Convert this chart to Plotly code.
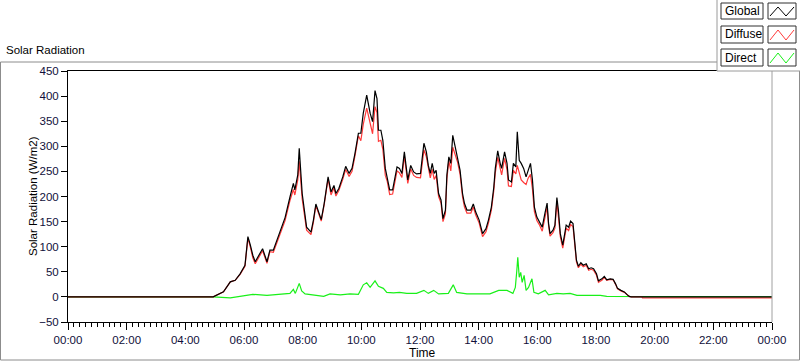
import plotly.graph_objects as go

# ---------------- data ----------------
times = ["00:00", "04:57", "05:18", "05:32", "05:42", "05:52", "06:02", "06:06", "06:08", "06:13",
         "06:18", "06:23", "06:32", "06:38", "06:47", "06:53", "07:00", "07:10", "07:17", "07:24",
         "07:34", "07:41", "07:44", "07:50", "07:53", "07:56", "07:59", "08:04", "08:08", "08:17",
         "08:22", "08:27", "08:32", "08:38", "08:44", "08:52", "08:58", "09:04", "09:08", "09:14",
         "09:22", "09:28", "09:35", "09:41", "09:47", "09:54", "09:59", "10:04", "10:11", "10:18",
         "10:23", "10:28", "10:32", "10:35", "10:40", "10:44", "10:49", "10:53", "10:58", "11:04",
         "11:08", "11:13", "11:18", "11:23", "11:28", "11:32", "11:35", "11:41", "11:47", "11:53",
         "12:01", "12:04", "12:08", "12:13", "12:17", "12:21", "12:25", "12:29", "12:33", "12:38",
         "12:43", "12:47", "12:52", "12:55", "12:59", "13:03", "13:07", "13:12", "13:17", "13:22",
         "13:27", "13:31", "13:36", "13:44", "13:49", "13:54", "14:01", "14:08", "14:15", "14:20",
         "14:26", "14:31", "14:34", "14:39", "14:44", "14:47", "14:53", "14:58", "15:01", "15:07",
         "15:11", "15:16", "15:19", "15:23", "15:27", "15:32", "15:37", "15:41", "15:46", "15:50",
         "15:54", "15:59", "16:04", "16:10", "16:16", "16:20", "16:23", "16:26", "16:32", "16:36",
         "16:40", "16:43", "16:47", "16:52", "16:55", "16:59", "17:04", "17:08", "17:13", "17:16",
         "17:20", "17:24", "17:29", "17:34", "17:40", "17:45", "17:50", "17:55", "18:01", "18:05",
         "18:12", "18:17", "18:22", "18:29", "18:35", "18:40", "18:44", "18:51", "18:58", "19:03",
         "19:08", "19:12", "19:34", "19:35", "24:00"]

global_rad = [0, 0, 10, 30, 33, 46, 63, 95, 120, 103,
              83, 70, 86, 96, 70, 93, 93, 120, 136, 158,
              199, 226, 213, 243, 296, 246, 206, 169, 139, 129,
              153, 185, 169, 154, 186, 239, 209, 222, 206, 216,
              239, 260, 246, 256, 286, 326, 326, 366, 402, 366,
              349, 411, 395, 332, 332, 312, 256, 239, 213, 213,
              233, 259, 256, 246, 289, 256, 233, 262, 249, 245,
              246, 272, 306, 289, 262, 246, 266, 246, 252, 206,
              193, 156, 173, 243, 279, 266, 322, 299, 277, 252,
              206, 186, 173, 173, 185, 169, 153, 126, 136, 153,
              179, 219, 256, 291, 266, 256, 289, 266, 233, 229,
              266, 259, 329, 272, 266, 256, 239, 252, 266, 233,
              179, 159, 150, 139, 169, 187, 146, 126, 133, 143,
              198, 173, 126, 103, 120, 143, 139, 151, 146, 106,
              73, 61, 68, 63, 66, 56, 58, 56, 46, 32,
              36, 41, 34, 36, 35, 26, 17, 13, 10, 5,
              1, 0, 0, 0, 0]

diffuse_rad = [0, 0, 10, 30, 33, 45, 61, 92, 117, 99,
               78, 66, 82, 92, 67, 90, 89, 115, 131, 152,
               192, 214, 203, 233, 270, 230, 195, 161, 133, 124,
               149, 182, 166, 151, 184, 235, 203, 217, 201, 212,
               234, 254, 240, 250, 281, 321, 311, 344, 376, 346,
               325, 379, 367, 310, 312, 294, 242, 230, 204, 205,
               225, 251, 247, 238, 281, 249, 226, 255, 242, 238,
               237, 261, 293, 279, 254, 237, 254, 234, 242, 200,
               187, 150, 166, 236, 271, 251, 298, 285, 268, 244,
               199, 179, 167, 167, 179, 163, 147, 120, 130, 147,
               173, 212, 247, 278, 253, 243, 276, 253, 221, 220,
               252, 245, 262, 248, 233, 228, 224, 236, 244, 215,
               170, 152, 144, 131, 157, 179, 142, 121, 128, 137,
               191, 166, 120, 97, 114, 137, 132, 144, 140, 102,
               70, 58, 65, 60, 63, 53, 55, 53, 43, 29,
               33, 39, 33, 35, 34, 25, 16, 12, 9, 5,
               1, 0, 0, -2, -2]

direct_times = ["00:00", "04:57", "05:32", "06:05", "06:18", "06:47", "07:14", "07:34", "07:41", "07:45",
                "07:53", "07:58", "08:05", "08:22", "08:43", "08:56", "09:17", "09:37", "09:54", "10:04",
                "10:11", "10:18", "10:28", "10:35", "10:45", "10:52", "11:06", "11:18", "11:33", "11:53",
                "12:08", "12:17", "12:28", "12:38", "12:58", "13:08", "13:15", "13:36", "14:03", "14:23",
                "14:41", "14:58", "15:10", "15:15", "15:18", "15:20", "15:23", "15:26", "15:29", "15:33",
                "15:37", "15:42", "15:49", "15:53", "16:02", "16:16", "16:23", "16:40", "16:53", "17:07",
                "17:21", "18:09", "18:22", "18:43", "19:10", "24:00"]

direct_rad = [0, 0, -2, 3, 5, 3, 5, 7, 15, 7,
              27, 12, 6, 4, 1, 6, 4, 6, 5, 24,
              28, 19, 32, 21, 17, 9, 8, 9, 7, 7,
              13, 7, 13, 6, 7, 24, 9, 6, 6, 6,
              13, 13, 7, 19, 52, 79, 39, 49, 29, 43,
              13, 19, 36, 9, 6, 13, 4, 7, 6, 7,
              3, 3, 1, 1, 0, 0]

y_ticks = [-50, 0, 50, 100, 150, 200, 250, 300, 350, 400, 450]
legend_names = ["Global", "Diffuse", "Direct"]
legend_colors = ["#000000", "#ff3a3a", "#19f019"]


def to_dt(hhmm):
    if hhmm == "24:00":
        return "2020-01-02 00:00"
    return "2020-01-01 " + hhmm


x_main = [to_dt(t) for t in times]
x_direct = [to_dt(t) for t in direct_times]

FONT = "Liberation Sans"
W, H = 800, 361
L, R, T, B = 68, 28, 71, 39
PW, PH = W - L - R, H - T - B


def px(x):
    return (x - L) / PW


def py(y):
    return (H - B - y) / PH


fig = go.Figure()
fig.add_trace(go.Scatter(x=x_direct, y=direct_rad, mode="lines", name="Direct",
                         line=dict(color=legend_colors[2], width=1.2), showlegend=False))
fig.add_trace(go.Scatter(x=x_main, y=diffuse_rad, mode="lines", name="Diffuse",
                         line=dict(color=legend_colors[1], width=1.2), showlegend=False))
fig.add_trace(go.Scatter(x=x_main, y=global_rad, mode="lines", name="Global",
                         line=dict(color=legend_colors[0], width=1.2), showlegend=False))

shapes = []
annotations = []

# outer frame
shapes.append(dict(type="rect", xref="paper", yref="paper", x0=px(0.5), x1=px(799.5),
                   y0=py(62), y1=py(360), line=dict(color="#8c8c8c", width=1), layer="above"))
# right border of plot (grey)
shapes.append(dict(type="line", xref="paper", yref="paper", x0=1, x1=1, y0=0, y1=1,
                   line=dict(color="#a0a0a0", width=1), layer="above"))
# legend panel
shapes.append(dict(type="rect", xref="paper", yref="paper", x0=px(717), x1=px(801),
                   y0=py(71), y1=py(-1), line=dict(color="#9a9a9a", width=1),
                   fillcolor="#ffffff", layer="above"))

rows = [(3, 19), (26, 43), (49, 66)]
for (y0, y1), name, col in zip(rows, legend_names, legend_colors):
    shapes.append(dict(type="rect", xref="paper", yref="paper", x0=px(721), x1=px(763),
                       y0=py(y1), y1=py(y0), line=dict(color="#303030", width=1),
                       fillcolor="#ffffff", layer="above"))
    shapes.append(dict(type="rect", xref="paper", yref="paper", x0=px(768), x1=px(796),
                       y0=py(y1), y1=py(y0), line=dict(color="#303030", width=1),
                       fillcolor="#ffffff", layer="above"))
    lo, hi = y1 - 3, y0 + 4
    path = "M {} {} L {} {} L {} {} L {} {}".format(
        px(770), py(lo), px(778), py(hi), px(786), py(lo), px(794), py(hi))
    shapes.append(dict(type="path", xref="paper", yref="paper", path=path,
                       line=dict(color=col, width=1), layer="above"))
    annotations.append(dict(text=name, xref="paper", yref="paper", x=px(723), y=py((y0 + y1) / 2),
                            xanchor="left", yanchor="middle", showarrow=False,
                            font=dict(family=FONT, size=12, color="#000000")))

annotations.append(dict(text="Solar Radiation", xref="paper", yref="paper", x=px(4), y=py(50),
                        xanchor="left", yanchor="middle", showarrow=False,
                        font=dict(family=FONT, size=11.5, color="#000000")))
annotations.append(dict(text="Solar Radiation (W/m2)", xref="paper", yref="paper", x=px(33),
                        y=py(196), textangle=-90, xanchor="center", yanchor="middle",
                        showarrow=False, font=dict(family=FONT, size=11.5, color="#000000")))
annotations.append(dict(text="Time", xref="paper", yref="paper", x=px(422), y=py(353),
                        xanchor="center", yanchor="middle", showarrow=False,
                        font=dict(family=FONT, size=12, color="#000000")))

fig.update_layout(
    width=W, height=H,
    margin=dict(l=L, r=R, t=T, b=B, pad=0),
    paper_bgcolor="#ffffff", plot_bgcolor="#ffffff",
    showlegend=False, hovermode=False,
    shapes=shapes, annotations=annotations,
    xaxis=dict(type="date", range=["2020-01-01 00:00", "2020-01-02 00:00"],
               tickformat="%H:%M", dtick=7200000, tick0="2020-01-01 00:00",
               ticks="outside", ticklen=7, tickcolor="#000000", tickwidth=1,
               showline=True, linecolor="#000000", linewidth=1, mirror=True,
               showgrid=False, zeroline=False,
               tickfont=dict(family=FONT, size=11.5, color="#10103a"),
               minor=dict(dtick=720000, ticks="outside", ticklen=4, tickcolor="#000000",
                          showgrid=False)),
    yaxis=dict(range=[-50, 450], tickvals=y_ticks, ticks="outside", ticklen=6,
               tickcolor="#000000", showline=True, linecolor="#000000", linewidth=1,
               showgrid=False, zeroline=False,
               tickfont=dict(family=FONT, size=11.5, color="#10103a")),
)

fig.write_html("out.html", config={"displayModeBar": False, "staticPlot": True},
               post_script="document.body.style.margin='0';document.body.style.overflow='hidden';")
